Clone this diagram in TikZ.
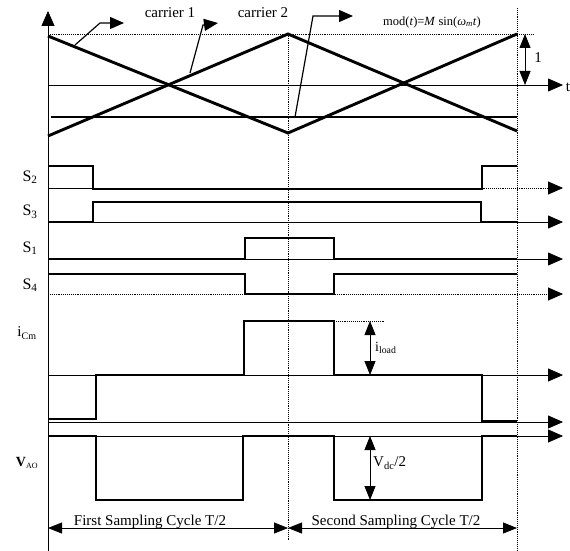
\documentclass[tikz,border=0pt]{standalone}
\usepackage{fontspec}
\setmainfont{Liberation Serif}
\usetikzlibrary{arrows.meta}
\begin{document}
\begin{tikzpicture}[x=1pt,y=-1pt,
  sig/.style={line width=2.9pt, line join=miter},
  axis/.style={line width=0.8pt},
  dotax/.style={line width=0.9pt, densely dotted},
  ptr/.style={line width=1.2pt, -{Triangle[length=14pt,width=12pt]}},
  tip/.style={-{Triangle[length=15pt,width=13pt]}},
  dtip/.style={{Triangle[length=14pt,width=11pt]}-{Triangle[length=14pt,width=11pt]}},
  lbl/.style={font=\fontsize{15}{17}\selectfont, inner sep=0pt},
  slbl/.style={font=\fontsize{16}{18}\selectfont, inner sep=0pt}
]
\useasboundingbox (0,0) rectangle (570,551);
% axes and guides
\draw[axis, tip] (48,551) -- (48,11);
\draw[dotax] (48,34) -- (533,34);
\draw[dotax] (288,34) -- (288,540);
\draw[dotax] (517,8) -- (517,551);
\draw[axis, tip] (48,85) -- (563,85);
\node[lbl] (tlab) at (568,87) {t};
% carriers and modulation
\draw[sig] (48,36) -- (288,133) -- (517,34);
\draw[sig] (48,136) -- (288,34) -- (517,131);
\draw[sig] (51,117) -- (517,117);
% amplitude 1
\draw[axis, dtip] (525,34) -- (525,85);
\node[lbl] (one) at (538,58) {1};
% labels and pointers
\node[lbl] (c1) at (170,13) {carrier 1};
\node[lbl] (c2) at (263,13) {carrier 2};
\node[inner sep=0pt, font=\fontsize{12.5}{14}\selectfont] (modt) at (432,22) {mod(\textit{t})=\textit{M} sin(\textit{ω}\textsubscript{\textit{m}}\textit{t})};
\coordinate (p1) at (75,45);
\coordinate (p2) at (190,73);
\coordinate (p3) at (295,117);
\draw[ptr] (p1) -- (100,23) -- (124,23);
\draw[ptr] (p2) -- (203,25) -- (218,23);
\draw[ptr] (p3) -- (313,16) -- (353,16);
% switching signals
\node[slbl] (s2) at (30,177) {S\textsubscript{2}};
\node[slbl] (s3) at (30,212) {S\textsubscript{3}};
\node[slbl] (s1) at (30,248) {S\textsubscript{1}};
\node[slbl] (s4) at (30,285) {S\textsubscript{4}};
\draw[axis] (48,188) -- (93,188);
\draw[dotax, tip] (93,188) -- (563,188);
\draw[sig] (48,166) -- (93,166) -- (93,189) -- (482,189) -- (482,166) -- (517,166);
\draw[axis, tip] (48,222) -- (563,222);
\draw[sig] (48,222) -- (93,222) -- (93,202) -- (481,202) -- (481,222) -- (517,222);
\draw[axis, tip] (48,259) -- (563,259);
\draw[sig] (48,259) -- (245,259) -- (245,238) -- (334,238) -- (334,259) -- (517,259);
\draw[dotax, tip] (48,294) -- (563,294);
\draw[sig] (48,274) -- (245,274) -- (245,294) -- (334,294) -- (334,274) -- (517,274);
% capacitor current
\node[lbl] (icm) at (27,333) {i\textsubscript{\fontsize{10}{11}\selectfont Cm}};
\draw[axis, tip] (48,375) -- (563,375);
\draw[axis, tip] (48,422) -- (563,422);
\draw[sig] (48,419) -- (96,419) -- (96,375) -- (244,375) -- (244,321) -- (334,321) -- (334,375) -- (482,375) -- (482,421) -- (517,421);
\draw[dotax] (334,321) -- (385,321);
\draw[axis, dtip] (370,321) -- (370,375);
\node[anchor=west, inner sep=0pt, font=\fontsize{14}{16}\selectfont] (iload) at (375,348) {i\textsubscript{load}};
% output voltage
\node[inner sep=0pt, font=\fontsize{14}{16}\selectfont] (vao) at (27,463) {\textbf{V}\textsubscript{\fontsize{8}{9}\selectfont AO}};
\draw[axis, tip] (48,436) -- (563,436);
\draw[sig] (48,436) -- (96,436) -- (96,500) -- (243,500) -- (243,436) -- (334,436) -- (334,500) -- (482,500) -- (482,436) -- (517,436);
\draw[axis, dtip] (370,436) -- (370,500);
\node[anchor=west, inner sep=0pt, font=\fontsize{15}{17}\selectfont] (vdc) at (373,463) {V\textsubscript{dc}/2};
% sampling cycles
\coordinate (b0) at (48,528);
\coordinate (b1) at (288,528);
\coordinate (b2) at (517,528);
\draw[axis, dtip] (b0) -- (b1);
\draw[axis, dtip] (b1) -- (b2);
\node[anchor=base, lbl] (fsc) at (150,525) {First Sampling Cycle T/2};
\node[anchor=base, lbl] (ssc) at (396,525) {Second Sampling Cycle T/2};
\end{tikzpicture}
\end{document}
